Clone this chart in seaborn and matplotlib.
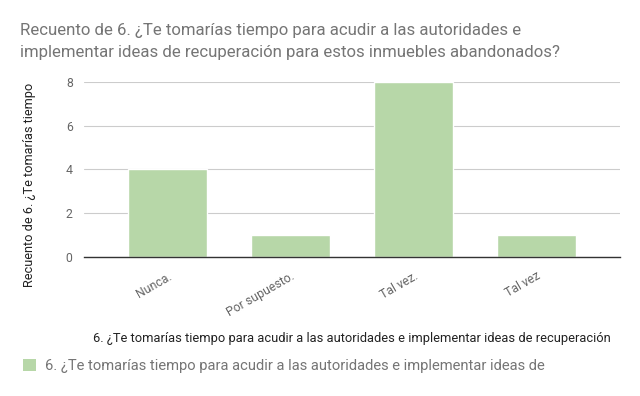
import matplotlib
matplotlib.use("Agg")
import matplotlib.pyplot as plt
import seaborn as sns
import pandas as pd
from matplotlib.patches import Patch

categories = ["Nunca.", "Por supuesto.", "Tal vez.", "Tal vez"]
counts = [4, 1, 8, 1]
yticks = [0, 2, 4, 6, 8]

title = ("Recuento de 6. ¿Te tomarías tiempo para acudir a las autoridades e\n"
         "implementar ideas de recuperación para estos inmuebles abandonados?")
ylabel = "Recuento de 6. ¿Te tomarías tiempo"
xlabel = "6. ¿Te tomarías tiempo para acudir a las autoridades e implementar ideas de recuperación"
legend_label = "6. ¿Te tomarías tiempo para acudir a las autoridades e implementar ideas de"

sns.set_theme(style="white")
plt.rcParams['font.family'] = ['Roboto', 'DejaVu Sans']

df = pd.DataFrame({"cat": range(len(categories)), "count": counts})

fig = plt.figure(figsize=(6.4, 3.96), dpi=100)
ax = fig.add_axes([0.131, 0.351, 0.838, 0.442])

bar_color = "#b7d7a8"
sns.barplot(data=df, x="cat", y="count", color=bar_color, width=0.65,
            saturation=1, ax=ax, native_scale=False)

ax.set_xlim(-0.68, 3.68)
ax.set_ylim(0, 8)
ax.set_yticks(yticks)
ax.set_yticklabels([str(v) for v in yticks], color="#666666", fontsize=8.8)
ax.grid(axis="y", color="#cccccc", linewidth=0.8)
ax.set_axisbelow(True)
for s in ["top", "right", "left"]:
    ax.spines[s].set_visible(False)
ax.spines["bottom"].set_color("#333333")
ax.spines["bottom"].set_linewidth(1.0)
ax.tick_params(axis="both", length=0, pad=8)

ax.set_xticks(range(len(categories)))
ax.set_xticklabels(categories, rotation=30, ha="right", rotation_mode="anchor",
                   color="#666666", fontsize=8.8)
ax.tick_params(axis="x", pad=9)

ax.set_xlabel(xlabel, fontsize=9.3, color="#222222")
ax.xaxis.set_label_coords(0.5, -0.429)
ax.set_ylabel(ylabel, fontsize=9.2, color="#222222")
ax.yaxis.set_label_coords(-0.089, 0.41)

fig.text(0.031, 0.895, title, fontsize=12.1, color="#757575", ha="left", va="center",
         linespacing=1.6)

handles = [Patch(facecolor=bar_color, edgecolor="none")]
fig.legend(handles, [legend_label], loc="center left", bbox_to_anchor=(0.015, 0.075),
           frameon=False, fontsize=10.6, handlelength=0.9, handleheight=0.9,
           handletextpad=0.6, labelcolor="#757575")

fig.savefig("out.png", dpi=100)
